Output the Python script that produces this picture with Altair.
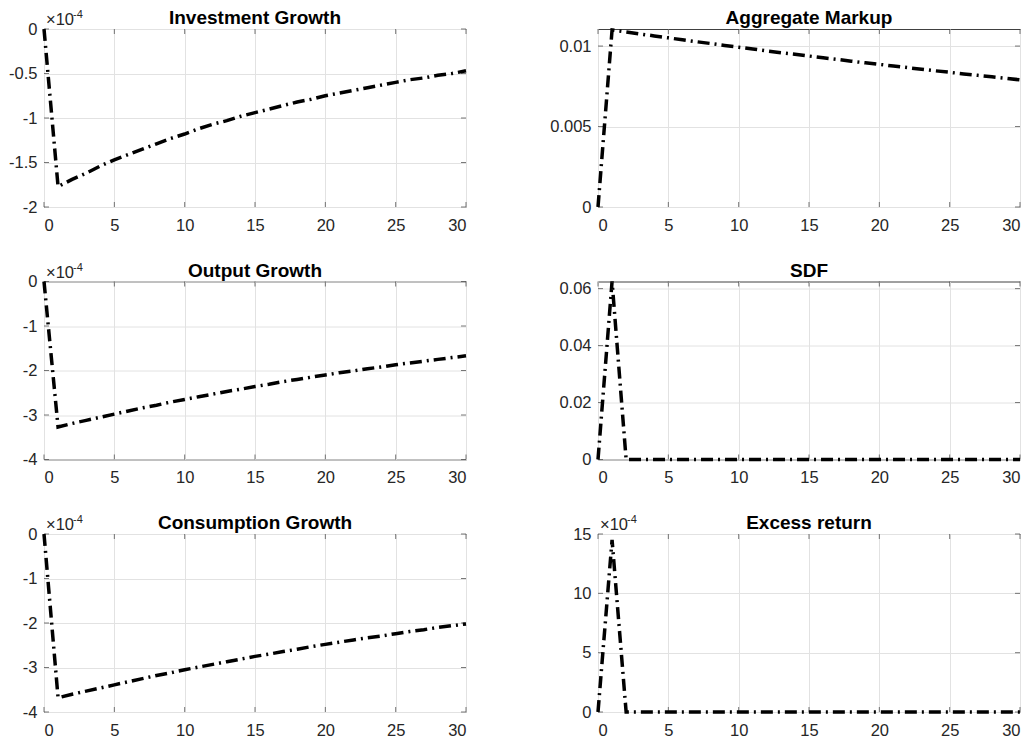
import altair as alt
import pandas as pd

periods = list(range(31))

# values (Investment/Output/Consumption/Excess return in units of 1e-4)
investment = [0, -1.77, -1.69, -1.62, -1.54, -1.47, -1.41, -1.35, -1.29, -1.23, -1.18,
              -1.12, -1.07, -1.03, -0.98, -0.94, -0.90, -0.86, -0.82, -0.79, -0.75,
              -0.72, -0.69, -0.66, -0.63, -0.60, -0.57, -0.55, -0.52, -0.50, -0.47]
markup = [0, 0.01100, 0.01088, 0.01075, 0.01063, 0.01051, 0.01039, 0.01027, 0.01016, 0.01004, 0.00993,
          0.00982, 0.00970, 0.00959, 0.00949, 0.00938, 0.00927, 0.00917, 0.00906, 0.00896, 0.00886,
          0.00876, 0.00866, 0.00856, 0.00846, 0.00837, 0.00827, 0.00818, 0.00809, 0.00800, 0.00790]
output = [0, -3.27, -3.19, -3.12, -3.05, -2.98, -2.91, -2.84, -2.78, -2.71, -2.65,
          -2.59, -2.53, -2.47, -2.42, -2.36, -2.31, -2.25, -2.20, -2.15, -2.10,
          -2.05, -2.01, -1.96, -1.92, -1.87, -1.83, -1.79, -1.75, -1.71, -1.67]
sdf = [0, 0.0625] + [0] * 29
consumption = [0, -3.68, -3.60, -3.53, -3.46, -3.39, -3.32, -3.25, -3.18, -3.12, -3.05,
               -2.99, -2.93, -2.87, -2.81, -2.75, -2.70, -2.64, -2.59, -2.53, -2.48,
               -2.43, -2.38, -2.33, -2.29, -2.24, -2.19, -2.15, -2.10, -2.06, -2.02]
excess = [0, 14.5] + [0] * 29

x_ticks = [0, 5, 10, 15, 20, 25, 30]

FONT = "Liberation Sans"
TXT = "#262626"
GRID = "#e2e2e2"
W, H = 422, 178
TICK_LEN = 5
LABEL_FS = 16.5


def panel(title, values, domain, yticks, exponent):
    df = pd.DataFrame({"t": periods, "v": values})
    xscale = alt.Scale(domain=[0, 30], nice=False, zero=False)
    yscale = alt.Scale(domain=domain, nice=False, zero=False)
    xaxis = alt.Axis(values=x_ticks, title=None, grid=True, gridColor=GRID,
                     ticks=False, domain=False, labelPadding=10,
                     labelExpr="'' + datum.value")
    yaxis = alt.Axis(values=yticks, title=None, grid=True, gridColor=GRID,
                     ticks=False, domain=False, labelPadding=7,
                     labelExpr="'' + datum.value")

    def X():
        return alt.X("t:Q", scale=xscale, axis=xaxis)

    def Y():
        return alt.Y("v:Q", scale=yscale, axis=yaxis)

    line = alt.Chart(df).mark_line(
        color="black", strokeWidth=3.5, strokeDash=[12, 5, 2, 5], clip=False, strokeCap="butt"
    ).encode(x=X(), y=Y())

    # inward ticks on all four sides (MATLAB box style)
    xt = pd.DataFrame({"t": x_ticks})
    yt = pd.DataFrame({"v": yticks})
    tick_style = dict(color="#404040", thickness=1, size=TICK_LEN)
    xt_bot = alt.Chart(xt).mark_tick(**tick_style).encode(x=X(), y=alt.value(H - TICK_LEN / 2))
    xt_top = alt.Chart(xt).mark_tick(**tick_style).encode(x=X(), y=alt.value(TICK_LEN / 2))
    yt_left = alt.Chart(yt).mark_tick(**tick_style).encode(y=Y(), x=alt.value(TICK_LEN / 2))
    yt_right = alt.Chart(yt).mark_tick(**tick_style).encode(y=Y(), x=alt.value(W - TICK_LEN / 2))

    ttl = pd.DataFrame({"label": [title]})
    title_txt = alt.Chart(ttl).mark_text(
        align="center", baseline="alphabetic", font=FONT, fontSize=19,
        fontWeight="bold", color="black"
    ).encode(text="label:N", x=alt.value(W / 2), y=alt.value(-5))

    layers = [xt_bot, xt_top, yt_left, yt_right, line, title_txt]
    if exponent:
        ex = pd.DataFrame({"base": ["×10"], "sup": [exponent]})
        base_txt = alt.Chart(ex).mark_text(
            align="left", baseline="alphabetic", font=FONT, fontSize=LABEL_FS, color=TXT
        ).encode(text="base:N", x=alt.value(2), y=alt.value(-4))
        sup_txt = alt.Chart(ex).mark_text(
            align="left", baseline="alphabetic", font=FONT, fontSize=11, color=TXT
        ).encode(text="sup:N", x=alt.value(29), y=alt.value(-11))
        layers += [base_txt, sup_txt]
    return alt.layer(*layers).properties(width=W, height=H)


p1 = panel("Investment Growth", investment, [-2, 0], [-2, -1.5, -1, -0.5, 0], "-4")
p2 = panel("Aggregate Markup", markup, [0, 0.01106], [0, 0.005, 0.01], None)
p3 = panel("Output Growth", output, [-4, 0], [-4, -3, -2, -1, 0], "-4")
p4 = panel("SDF", sdf, [0, 0.0625], [0, 0.02, 0.04, 0.06], None)
p5 = panel("Consumption Growth", consumption, [-4, 0], [-4, -3, -2, -1, 0], "-4")
p6 = panel("Excess return", excess, [0, 15], [0, 5, 10, 15], "-4")

chart = alt.concat(
    p1, p2, p3, p4, p5, p6, columns=2,
    spacing={"row": 74.5, "column": 132}, bounds="flush",
).properties(
    padding={"left": 0, "top": 0, "right": 0, "bottom": 0}
).configure_view(
    stroke="#404040", strokeWidth=1
).configure_axis(
    labelFont=FONT, labelFontSize=LABEL_FS, labelColor=TXT
)

chart.save("out.html", embed_options={"renderer": "svg", "actions": False})
